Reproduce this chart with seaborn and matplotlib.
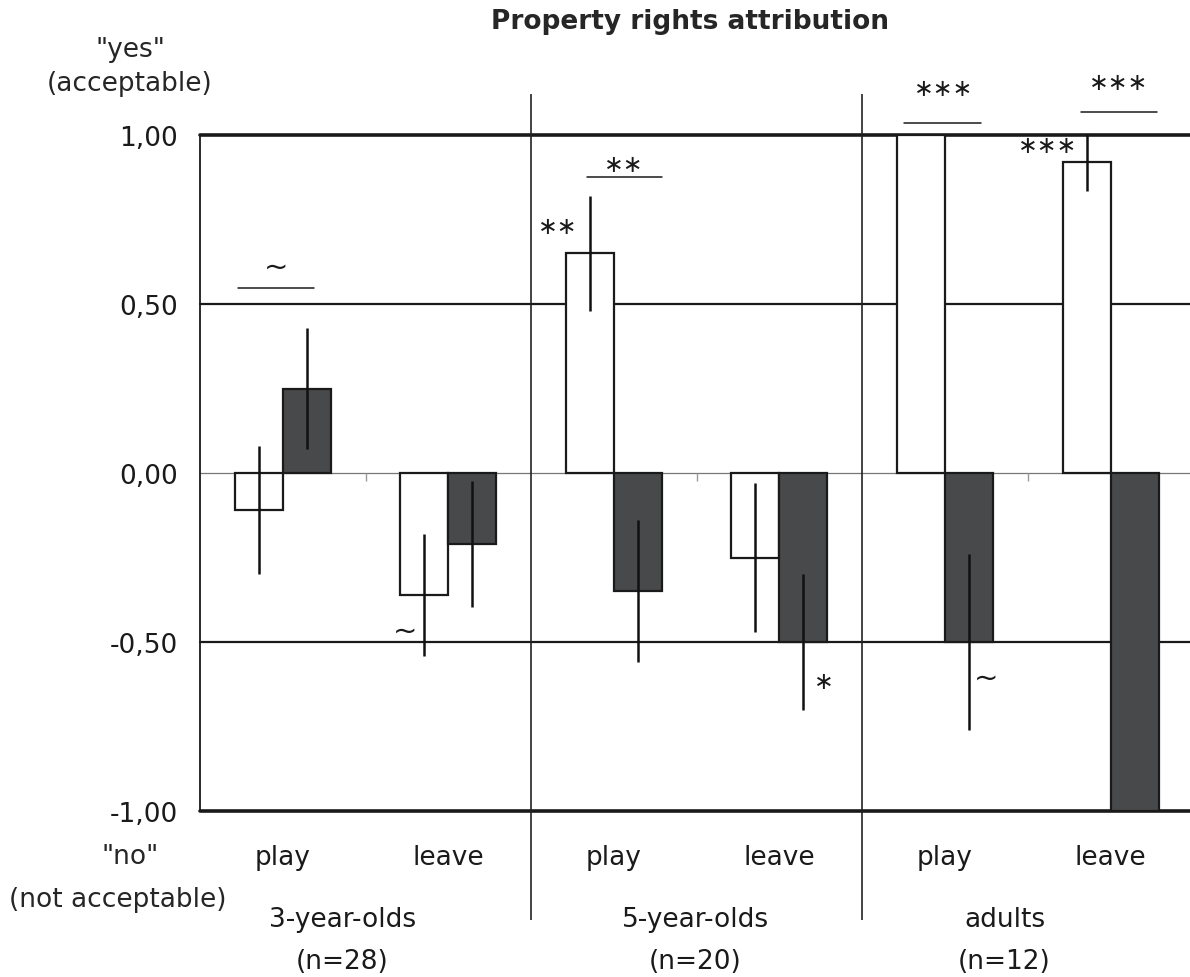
import matplotlib
matplotlib.use("Agg")
import matplotlib.pyplot as plt
import numpy as np
import pandas as pd
import seaborn as sns
from matplotlib.ticker import FuncFormatter

# chart values
categories = ["3_play", "3_leave", "5_play", "5_leave", "ad_play", "ad_leave"]
tick_labels = ["play", "leave", "play", "leave", "play", "leave"]
conditions = ["white", "dark"]
white_means = [-0.11, -0.36, 0.65, -0.25, 1.00, 0.92]
white_err = [0.19, 0.18, 0.17, 0.22, 0.0, 0.085]
dark_means = [0.25, -0.21, -0.35, -0.50, -0.50, -1.00]
dark_err = [0.18, 0.185, 0.21, 0.20, 0.26, 0.0]
groups = ["3-year-olds", "5-year-olds", "adults"]
group_n = [28, 20, 12]
group_x = [0.36, 2.49, 4.36]
y_ticks = [1.0, 0.5, 0.0, -0.5, -1.0]

# significance marks: (text, x, y) and bracket lines (x0, x1, y)
marks = [("~", -0.04, 0.61), ("~", 0.74, -0.465), ("∗∗", 1.66, 0.73),
         ("∗∗", 2.06, 0.915), ("∗", 3.27, -0.615), ("~", 4.25, -0.605),
         ("∗∗∗", 3.99, 1.138), ("∗∗∗", 5.05, 1.158), ("∗∗∗", 4.62, 0.97)]
brackets = [(-0.27, 0.19, 0.547), (1.84, 2.29, 0.876),
            (3.75, 4.22, 1.036), (4.82, 5.28, 1.069)]

df = pd.DataFrame({
    "cat": categories * 2,
    "cond": ["white"] * 6 + ["dark"] * 6,
    "value": white_means + dark_means,
})
errs = {"white": white_err, "dark": dark_err}
means = {"white": white_means, "dark": dark_means}

sns.set_style("white")
plt.rcParams["font.family"] = ["DejaVu Sans"]

fig = plt.figure(figsize=(11.9, 9.78), dpi=100)
ax = fig.add_axes([200 / 1190, 166 / 978, 990 / 1190, 676 / 978])

sns.barplot(data=df, x="cat", y="value", hue="cond", order=categories,
            hue_order=conditions, palette={"white": "white", "dark": "#47494a"},
            edgecolor="#1a1a1a", linewidth=1.6, width=0.58, errorbar=None,
            saturation=1, legend=False, ax=ax, zorder=2)

for cond, cont in zip(conditions, ax.containers):
    xs = [b.get_x() + b.get_width() / 2 for b in cont.patches]
    ax.errorbar(xs, means[cond], yerr=errs[cond], fmt="none", ecolor="#111111",
                elinewidth=1.8, capsize=0, zorder=3)

# horizontal reference lines
for y, lw, c in [(1.0, 2.6, "#1a1a1a"), (-1.0, 2.6, "#1a1a1a"),
                 (0.5, 1.6, "#1a1a1a"), (-0.5, 1.6, "#1a1a1a"), (0.0, 0.9, "#777777")]:
    ax.axhline(y, color=c, lw=lw, zorder=0.5, clip_on=False)
ax.vlines([0.5, 2.5, 4.5], -0.025, 0, color="#999999", lw=1, zorder=0.6)

# group separators
ax.vlines([1.5, 3.5], -1.322, 1.121, color="#222222", lw=1.2, clip_on=False, zorder=4)

ax.set_xlim(-0.5, 5.48)
ax.set_ylim(-1, 1)
ax.set_yticks(y_ticks)
ax.yaxis.set_major_formatter(FuncFormatter(lambda v, p: f"{v:.2f}".replace(".", ",")))
ax.tick_params(axis="y", length=6, width=1, pad=10, labelsize=19, color="#888888",
               labelcolor="#1a1a1a")
ax.set_xticks(range(len(categories)))
ax.set_xticklabels(tick_labels)
ax.tick_params(axis="x", length=0, pad=24, labelsize=19, colors="#1a1a1a")
ax.set_xlabel("")
ax.set_ylabel("")
for s in ["top", "right", "bottom"]:
    ax.spines[s].set_visible(False)
ax.spines["left"].set_color("#1a1a1a")
ax.spines["left"].set_linewidth(1.3)

for txt, x, y in marks:
    fs = 21 if txt == "~" else 17
    ax.text(x, y, txt, ha="center", va="center", fontsize=fs, color="#1a1a1a",
            clip_on=False, zorder=5)
for x0, x1, y in brackets:
    ax.plot([x0, x1], [y, y], color="#1a1a1a", lw=1.1, clip_on=False, zorder=5)

trans = ax.get_xaxis_transform()
for g, n, x in zip(groups, group_n, group_x):
    ax.text(x, -0.16, g, transform=trans, ha="center", va="center", fontsize=19,
            color="#1a1a1a")
    ax.text(x, -0.222, f"(n={n})", transform=trans, ha="center", va="center",
            fontsize=19, color="#1a1a1a")

fig.text(130 / 1190, 1 - 50 / 978, '"yes"', ha="center", va="center", fontsize=19)
fig.text(130 / 1190, 1 - 84 / 978, "(acceptable)", ha="center", va="center", fontsize=19)
fig.text(130 / 1190, 1 - 857 / 978, '"no"', ha="center", va="center", fontsize=19)
fig.text(118 / 1190, 1 - 900 / 978, "(not acceptable)", ha="center", va="center", fontsize=19)
fig.text(690 / 1190, 1 - 22 / 978, "Property rights attribution", ha="center",
         va="center", fontsize=19, fontweight="bold")

fig.savefig("out.png", dpi=100)
